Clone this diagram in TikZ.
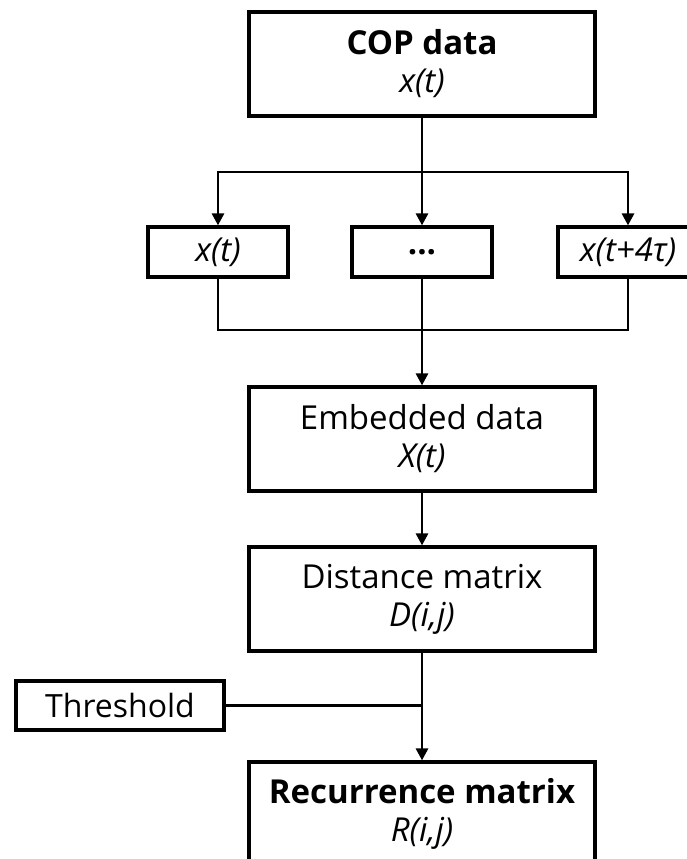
\documentclass[tikz,border=0pt]{standalone}
\usepackage{fontspec}
\setmainfont{Open Sans}
\usepackage{tikz}
\usetikzlibrary{arrows.meta, positioning, calc}
\tikzset{
  bigbox/.style={draw, line width=3.2pt, rectangle, inner sep=0pt,
    minimum width=346pt, minimum height=104pt, align=center,
    font=\fontsize{33}{38}\selectfont},
  smallbox/.style={draw, line width=3.2pt, rectangle, inner sep=0pt,
    minimum width=140pt, minimum height=50pt,
    font=\fontsize{33}{37}\selectfont\itshape},
  wire/.style={line width=2.8pt},
  arr/.style={line width=2.8pt, -{Triangle[length=12pt, width=12pt]}}
}

\begin{document}
\begin{tikzpicture}[x=1pt, y=1pt]

  \path[use as bounding box, clip] (0,0) rectangle (687,-859);

  %% Input data
  \node[bigbox] (cop) at (422,-64)
    {\textbf{COP data}\\ \textit{x(t)}};

  %% Delay vectors
  \node[smallbox] (xt)   at (218,-252) {x(t)};
  \node[smallbox] (dots) at (422,-252) {\upshape\bfseries {.}{.}{.}};
  \node[smallbox] (xtau) at (628,-252) {x(t+4τ)};

  \coordinate (split) at (422,-172);
  \coordinate (join)  at (422,-330);

  \draw[wire] (cop) -- (split);
  \draw[arr]  (split) -| (xt);
  \draw[arr]  (split) -- (dots);
  \draw[arr]  (split) -| (xtau);

  \draw[wire] (xt) |- (join);
  \draw[wire] (xtau) |- (join);
  \draw[wire] (dots) -- (join);

  %% Embedding and distances
  \node[bigbox] (embed) at (422,-439)
    {Embedded data\\ \textit{X(t)}};
  \node[bigbox] (dist) at (422,-599)
    {Distance matrix\\ \textit{D(i,j)}};

  \draw[arr] (join) -- (embed);
  \draw[arr] (embed) -- (dist);

  %% Threshold and result
  \node[draw, line width=3.2pt, inner sep=0pt, minimum width=208pt,
    minimum height=49pt, font=\fontsize{32}{36}\selectfont]
    (thresh) at (120,-705.5) {Threshold};
  \node[bigbox] (recur) at (422,-814)
    {\textbf{Recurrence matrix}\\ \textit{R(i,j)}};

  \coordinate (tjoin) at (dist.south |- thresh);
  \draw[wire] (thresh) -- (tjoin);
  \draw[arr]  (dist) -- (recur);

\end{tikzpicture}
\end{document}
